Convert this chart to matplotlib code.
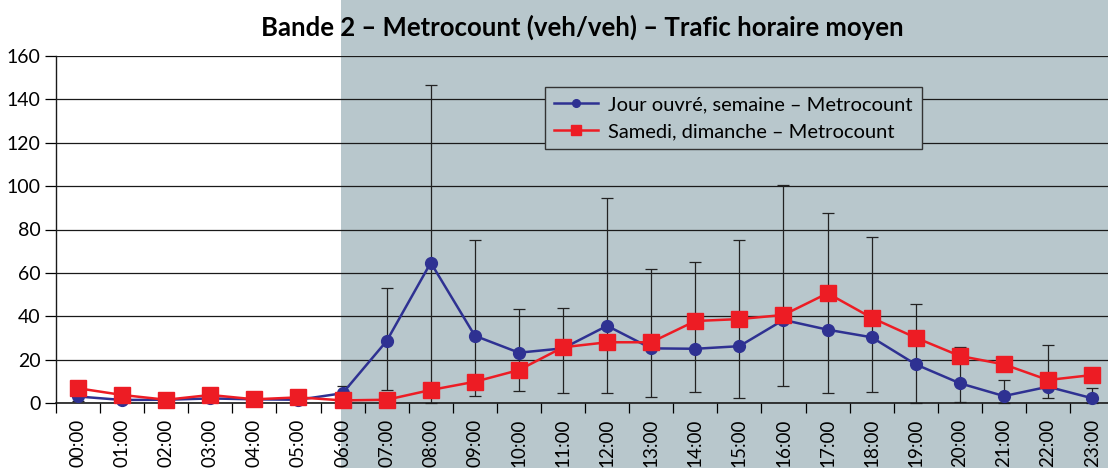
#!/usr/bin/env python3
"""
Bande 2 - Metrocount hourly traffic: weekday vs weekend, with min/max bars.
"""
import matplotlib

matplotlib.use("Agg")
import matplotlib.pyplot as plt
from matplotlib.patches import Rectangle

HOURS = [f"{h:02d}:00" for h in range(24)]

# weekday mean + min/max range (error bars)
WEEKDAY = [3.0, 1.4, 1.5, 2.1, 1.7, 1.5, 4.5, 28.6, 64.7, 31.0, 23.2, 25.2,
           35.6, 25.2, 25.0, 26.2, 38.3, 33.8, 30.3, 17.8, 9.1, 3.2, 7.5, 2.2]
WEEKDAY_LO = [1.0, 0.5, 0.5, 1.0, 1.0, 0.5, 1.0, 6.0, 0.0, 3.2, 5.7, 4.5,
              4.5, 2.6, 5.1, 2.2, 7.8, 4.5, 5.2, 0.0, 0.3, 0.0, 2.5, 0.0]
WEEKDAY_HI = [5.0, 3.0, 3.0, 4.0, 3.0, 3.0, 7.8, 53.0, 146.6, 75.0, 43.2, 44.0,
              94.5, 61.6, 65.0, 75.0, 100.7, 87.5, 76.5, 45.8, 26.0, 10.5, 26.8, 6.8]

WEEKEND = [6.8, 3.7, 1.5, 3.7, 1.7, 2.6, 1.2, 1.5, 6.0, 9.8, 15.2, 25.7,
           28.0, 28.0, 37.8, 38.7, 40.6, 50.6, 39.3, 30.1, 21.7, 17.8, 10.6, 12.9]

LABEL_WEEKDAY = "Jour ouvré, semaine – Metrocount"
LABEL_WEEKEND = "Samedi, dimanche – Metrocount"
TITLE = "Bande 2 – Metrocount (veh/veh) – Trafic horaire moyen"

SHADE = "#b8c7cc"
BLUE = "#2e3192"
RED = "#ed1c24"


def plot_figure(out_path):
    plt.rcParams["font.family"] = ["Lato", "DejaVu Sans"]

    fig = plt.figure(figsize=(11.08, 4.68), dpi=100)
    ax = fig.add_axes([56 / 1108, 65 / 468, 1 - 56 / 1108, 347 / 468])
    ax.set_xlim(-0.5, 23.36)
    ax.set_ylim(0, 160)
    ax.patch.set_alpha(0)

    # shaded day period, spanning the whole figure height from 06:00 on
    x0 = fig.transFigure.inverted().transform(ax.transData.transform((5.96, 0)))[0]
    fig.patches.append(Rectangle((x0, 0), 1 - x0, 1, transform=fig.transFigure,
                                 facecolor=SHADE, edgecolor="none", zorder=-10))

    x = list(range(len(HOURS)))
    yerr = [[v - lo for v, lo in zip(WEEKDAY, WEEKDAY_LO)],
            [hi - v for v, hi in zip(WEEKDAY, WEEKDAY_HI)]]
    ax.errorbar(x, WEEKDAY, yerr=yerr, fmt="none", ecolor="#222222",
                elinewidth=0.9, capsize=4.5, capthick=0.9, zorder=2, clip_on=False)
    ax.plot(x, WEEKDAY, color=BLUE, lw=1.8, marker="o", ms=8.5,
            label=LABEL_WEEKDAY, zorder=3, clip_on=False)
    ax.plot(x, WEEKEND, color=RED, lw=1.8, marker="s", ms=12,
            label=LABEL_WEEKEND, zorder=4, clip_on=False)

    ax.set_yticks(range(0, 161, 20))
    ax.yaxis.grid(True, color="#1a1a1a", linewidth=0.9)
    ax.set_axisbelow(True)
    ax.set_xticks([i - 0.5 for i in x])
    ax.set_xticklabels([])
    ax.set_xticks(x, minor=True)
    ax.set_xticklabels(HOURS, minor=True, rotation=90, va="top")
    ax.tick_params(axis="x", which="major", direction="out", length=7, width=0.9)
    ax.tick_params(axis="x", which="minor", length=0, pad=11, labelsize=13.5)
    ax.tick_params(axis="y", direction="out", length=8, width=0.9, labelsize=14, pad=3)
    for side in ("top", "right"):
        ax.spines[side].set_visible(False)
    ax.spines["left"].set_color("#1a1a1a")
    ax.spines["bottom"].set_color("#1a1a1a")
    ax.spines["left"].set_linewidth(1.0)
    ax.spines["bottom"].set_linewidth(1.2)

    leg = ax.legend(loc="upper left", bbox_to_anchor=(489 / 1052, 316 / 347), fontsize=14.5,
                    frameon=True, fancybox=False, framealpha=1, facecolor=SHADE,
                    edgecolor="#333333", markerscale=0.65, handlelength=2.2,
                    handletextpad=0.5, borderpad=0.45, labelspacing=0.5,
                    borderaxespad=0)
    leg.get_frame().set_linewidth(1.0)

    fig.text((56 + 1108) / 2 / 1108, 1 - 27 / 468, TITLE, ha="center", va="center",
             fontsize=18.5, fontweight="bold")

    fig.savefig(out_path, dpi=100)
    plt.close(fig)


def main():
    plot_figure("out.png")
    return 0


if __name__ == "__main__":
    raise SystemExit(main())
